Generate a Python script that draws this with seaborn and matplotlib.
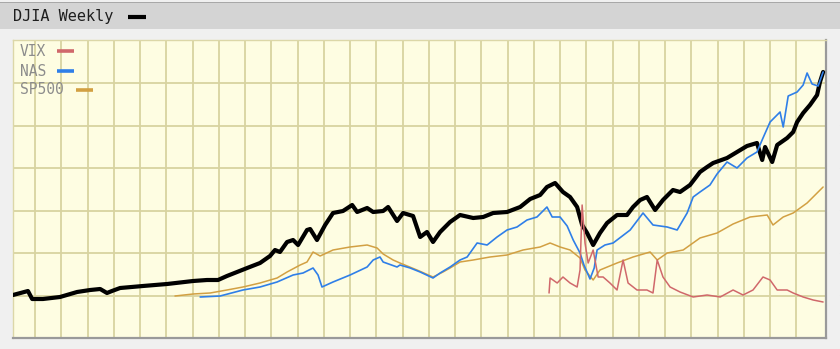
import matplotlib
matplotlib.use("Agg")
import matplotlib.pyplot as plt
from matplotlib.patches import Rectangle
from matplotlib.lines import Line2D
import seaborn as sns
import pandas as pd

# ---- data (decimal year, chart level) ----
djia_year = [1987.16, 1987.73, 1987.89, 1988.30, 1988.95, 1989.60, 1990.10, 1990.48, 1990.74, 1990.93,
             1991.24, 1992.11, 1993.03, 1994.02, 1994.55, 1994.97, 1995.31, 1996.08, 1996.57, 1996.95,
             1997.14, 1997.33, 1997.60, 1997.83, 1998.02, 1998.36, 1998.48, 1998.74, 1999.05, 1999.35,
             1999.73, 2000.08, 2000.27, 2000.65, 2000.88, 2001.26, 2001.45, 2001.79, 2002.02, 2002.40,
             2002.67, 2002.93, 2003.16, 2003.43, 2003.81, 2004.19, 2004.69, 2005.07, 2005.45, 2005.98,
             2006.48, 2006.86, 2007.24, 2007.50, 2007.81, 2008.11, 2008.38, 2008.65, 2008.84, 2009.03,
             2009.26, 2009.52, 2009.79, 2010.17, 2010.55, 2010.78, 2011.05, 2011.31, 2011.62, 2011.92,
             2012.30, 2012.57, 2012.95, 2013.33, 2013.60, 2013.83, 2014.36, 2014.74, 2015.12, 2015.50,
             2015.70, 2015.81, 2016.08, 2016.27, 2016.65, 2016.88, 2017.03, 2017.26, 2017.52, 2017.79,
             2017.90, 2018.02]
djia_level = [43, 47, 39, 39, 41, 46, 48, 49, 45, 47,
              50, 52, 54, 57, 58, 58, 62, 70, 75, 82,
              88, 86, 96, 98, 93, 108, 109, 98, 113, 125,
              127, 133, 126, 130, 126, 127, 131, 117, 125, 122,
              101, 106, 96, 106, 116, 123, 120, 121, 125, 126,
              131, 139, 143, 151, 155, 146, 141, 131, 113, 105,
              93, 105, 115, 123, 123, 131, 138, 141, 128, 138,
              148, 146, 153, 166, 171, 175, 180, 186, 192, 195,
              178, 191, 176, 193, 200, 206, 216, 225, 233, 243,
              256, 266]

nas_year = [1994.29, 1995.05, 1995.92, 1996.57, 1997.22, 1997.83, 1998.21, 1998.59, 1998.78, 1998.93,
            1999.35, 2000.00, 2000.65, 2000.88, 2001.14, 2001.26, 2001.79, 2001.90, 2002.29, 2002.67,
            2003.16, 2003.43, 2003.81, 2004.19, 2004.46, 2004.84, 2005.22, 2005.60, 2005.98, 2006.36,
            2006.74, 2007.12, 2007.50, 2007.70, 2008.00, 2008.27, 2008.50, 2008.76, 2008.91, 2009.14,
            2009.30, 2009.41, 2009.71, 2010.02, 2010.67, 2011.16, 2011.54, 2012.08, 2012.46, 2012.84,
            2013.07, 2013.33, 2013.71, 2013.98, 2014.36, 2014.74, 2015.12, 2015.50, 2015.73, 2016.00,
            2016.38, 2016.50, 2016.69, 2017.03, 2017.26, 2017.41, 2017.60, 2017.83, 2018.02]
nas_level = [41, 42, 48, 51, 56, 63, 65, 70, 63, 51,
             56, 63, 71, 78, 81, 76, 71, 73, 70, 66,
             60, 65, 71, 78, 81, 95, 93, 101, 108, 111,
             118, 121, 131, 121, 121, 112, 98, 85, 73, 59,
             70, 88, 93, 95, 108, 125, 113, 111, 108, 125,
             141, 146, 153, 164, 176, 170, 180, 186, 200, 216,
             226, 211, 242, 246, 253, 265, 254, 252, 266]

sp_year = [1993.33, 1994.02, 1994.67, 1995.31, 1995.92, 1996.57, 1997.22, 1997.60, 1998.10, 1998.36,
           1998.59, 1998.86, 1999.35, 2000.00, 2000.65, 2001.03, 2001.26, 2001.64, 2001.90, 2002.55,
           2003.16, 2003.54, 2003.81, 2004.19, 2004.69, 2005.33, 2005.98, 2006.59, 2007.24, 2007.62,
           2008.00, 2008.38, 2008.76, 2008.95, 2009.26, 2009.52, 2010.17, 2010.78, 2011.43, 2011.70,
           2012.08, 2012.69, 2013.33, 2013.98, 2014.59, 2015.24, 2015.89, 2016.11, 2016.50, 2016.88,
           2017.41, 2018.02]
sp_level = [42, 44, 45, 48, 51, 55, 60, 66, 73, 76,
            86, 82, 88, 91, 93, 90, 84, 78, 75, 68,
            61, 66, 70, 76, 78, 81, 83, 88, 91, 95,
            91, 88, 80, 68, 58, 68, 75, 81, 86, 78,
            85, 88, 100, 105, 114, 121, 123, 113, 121, 125,
            135, 151]

vix_year = [2007.58, 2007.62, 2007.89, 2008.11, 2008.38, 2008.65, 2008.76, 2008.84, 2008.95, 2009.07,
            2009.26, 2009.45, 2009.64, 2009.90, 2010.17, 2010.40, 2010.59, 2010.93, 2011.31, 2011.54,
            2011.70, 2011.92, 2012.19, 2012.57, 2013.07, 2013.60, 2014.10, 2014.59, 2014.97, 2015.35,
            2015.73, 2016.00, 2016.27, 2016.65, 2016.88, 2017.26, 2017.64, 2018.02]
vix_level = [45, 60, 55, 61, 55, 51, 68, 133, 95, 75,
             88, 61, 61, 55, 48, 78, 55, 48, 48, 45,
             78, 61, 51, 46, 41, 43, 41, 48, 43, 48,
             61, 58, 48, 48, 45, 41, 38, 36]

grid_years = list(range(1988, 2018))
grid_levels = [42.5, 85, 127.5, 170, 212.5, 255]
right_tick_labels = ["-", "-", "-", "-", "-", "-"]

legend_names = ["VIX", "NAS", "SP500"]
c_djia, c_vix, c_nas, c_sp = "#000000", "#d0686b", "#2f7fe8", "#d2a043"

sns.set_theme(style="white")
plt.rcParams["font.family"] = ["DejaVu Sans Mono", "DejaVu Sans"]

fig = plt.figure(figsize=(8.4, 3.49), dpi=100)
fig.patch.set_facecolor("#f0f0f0")
W, H = 840.0, 349.0
# title band
fig.patches.append(Rectangle((0, 1 - 29 / H), 1, 26 / H, transform=fig.transFigure,
                             facecolor="#d4d4d4", edgecolor="none", zorder=0))
fig.patches.append(Rectangle((0, 1 - 3 / H), 1, 1.2 / H, transform=fig.transFigure,
                             facecolor="#a8a8a8", edgecolor="none", zorder=0))
fig.text(13 / W, 1 - 17 / H, "DJIA Weekly", fontsize=11, color="#1e1e1e", va="center", ha="left")
fig.lines.append(Line2D([128 / W, 146 / W], [1 - 17 / H, 1 - 17 / H], transform=fig.transFigure,
                        color="black", linewidth=3, solid_capstyle="butt"))

ax = fig.add_axes([13 / W, 11 / H, 813 / W, 298 / H])
ax.set_facecolor("#fefde2")

df_d = pd.DataFrame({"year": djia_year, "level": djia_level})
df_s = pd.DataFrame({"year": sp_year, "level": sp_level})
df_n = pd.DataFrame({"year": nas_year, "level": nas_level})
df_v = pd.DataFrame({"year": vix_year, "level": vix_level})

sns.lineplot(data=df_d, x="year", y="level", ax=ax, color=c_djia, linewidth=3.0,
             estimator=None, sort=False, zorder=3)
sns.lineplot(data=df_s, x="year", y="level", ax=ax, color=c_sp, linewidth=1.1,
             estimator=None, sort=False, zorder=4)
sns.lineplot(data=df_n, x="year", y="level", ax=ax, color=c_nas, linewidth=1.2,
             estimator=None, sort=False, zorder=5)
sns.lineplot(data=df_v, x="year", y="level", ax=ax, color=c_vix, linewidth=1.1,
             estimator=None, sort=False, zorder=6)

ax.set_xlim(1987.16, 2018.13)
ax.set_ylim(0, 298)
ax.set_xticks(grid_years)
ax.set_yticks(grid_levels)
ax.set_yticklabels(right_tick_labels)
ax.grid(True, color="#d8d3a0", linewidth=1.3)
ax.set_axisbelow(True)
ax.set_xlabel("")
ax.set_ylabel("")
ax.tick_params(axis="x", bottom=False, labelbottom=False)
ax.tick_params(axis="y", left=False, labelleft=False, right=False, labelright=True,
               labelsize=4, labelcolor="#b4b4b4", pad=2.5)
for side in ["top", "left"]:
    ax.spines[side].set_color("#dcd7a8")
    ax.spines[side].set_linewidth(1.0)
for side in ["right", "bottom"]:
    ax.spines[side].set_color("#9a9a9a")
    ax.spines[side].set_linewidth(1.6)

# legend drawn as text + short swatches
leg_y = [51, 71, 90]
leg_x1 = [57, 57, 76]
leg_cols = [c_vix, c_nas, c_sp]
for name, yy, x1, col in zip(legend_names, leg_y, leg_x1, leg_cols):
    fig.text(20 / W, 1 - yy / H, name, fontsize=10.5, color="#8c8c8c", va="center", ha="left")
    fig.lines.append(Line2D([x1 / W, (x1 + 17) / W], [1 - yy / H, 1 - yy / H],
                            transform=fig.transFigure, color=col, linewidth=2.6,
                            solid_capstyle="butt", zorder=10))

fig.savefig("out.png", dpi=100, facecolor=fig.get_facecolor())
